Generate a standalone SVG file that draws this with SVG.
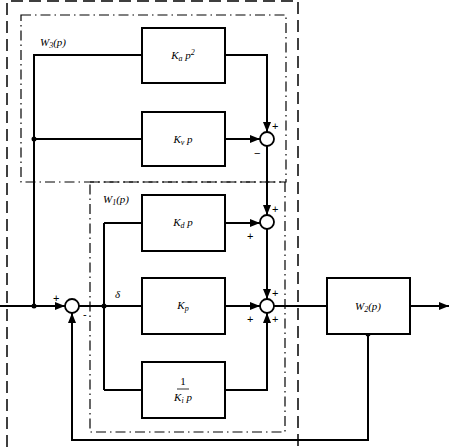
<svg xmlns="http://www.w3.org/2000/svg" width="452" height="447" viewBox="0 0 452 447">
<style>
.blk{fill:#fff;stroke:#000;stroke-width:2}
.ln{fill:none;stroke:#000;stroke-width:2}
.sum{fill:#fff;stroke:#000;stroke-width:1.8}
.dash{fill:none;stroke:#000;stroke-width:1.5;stroke-dasharray:12 6}
.dd{fill:none;stroke:#000;stroke-width:1.2;stroke-dasharray:10 4 1.5 4}
text{font-family:"Liberation Serif",serif;font-style:italic;font-size:11px;fill:#000}
.sg{font-style:normal;font-family:"Liberation Sans",sans-serif;font-size:11px}
</style>
<defs>
<marker id="ar" viewBox="0 0 10 8" refX="10" refY="4" markerWidth="10" markerHeight="8" markerUnits="userSpaceOnUse" orient="auto">
<path d="M0,0 L10,4 L0,8 Z" fill="#000"/>
</marker>
</defs>
<g id="frames">
<path class="dash" d="M7,447 V1 H298 V447"/>
<rect class="dd" x="21" y="15" width="265" height="167"/>
<rect class="dd" x="90" y="182" width="195" height="250"/>
</g>
<g id="connectors">
<path class="ln" d="M0,306 H65" marker-end="url(#ar)"/>
<path class="ln" d="M34,306 V55 H142"/>
<path class="ln" d="M34,139 H142"/>
<path class="ln" d="M225,139 H260" marker-end="url(#ar)"/>
<path class="ln" d="M225,55 H267 V132" marker-end="url(#ar)"/>
<path class="ln" d="M267,146 V215" marker-end="url(#ar)"/>
<path class="ln" d="M79,306 H142"/>
<path class="ln" d="M104,223 V390"/>
<path class="ln" d="M104,223 H142"/>
<path class="ln" d="M104,390 H142"/>
<path class="ln" d="M225,223 H260" marker-end="url(#ar)"/>
<path class="ln" d="M267,229 V299" marker-end="url(#ar)"/>
<path class="ln" d="M225,306 H260" marker-end="url(#ar)"/>
<path class="ln" d="M225,390 H267 V313" marker-end="url(#ar)"/>
<path class="ln" d="M274,306 H327"/>
<path class="ln" d="M410,306 H449" marker-end="url(#ar)"/>
<path class="ln" d="M368,334 V440 H72 V313" marker-end="url(#ar)"/>
<circle cx="34" cy="306" r="2.5"/>
<circle cx="34" cy="139" r="2.5"/>
<circle cx="104" cy="306" r="2.5"/>
<circle cx="368" cy="334" r="2.5"/>
</g>
<g id="sum0"><circle class="sum" cx="72" cy="306" r="7"/><text class="sg" x="53" y="302">+</text><text class="sg" x="83" y="318">-</text></g>
<g id="sum1"><circle class="sum" cx="267" cy="139" r="7"/><text class="sg" x="272" y="130">+</text><text class="sg" x="254" y="157">−</text></g>
<g id="sum2"><circle class="sum" cx="267" cy="222" r="7"/><text class="sg" x="272" y="213">+</text><text class="sg" x="247" y="240">+</text></g>
<g id="sum3"><circle class="sum" cx="267" cy="306" r="7"/><text class="sg" x="272" y="297">+</text><text class="sg" x="247" y="323">+</text><text class="sg" x="272" y="323">+</text></g>
<g id="b1"><rect class="blk" x="142" y="28" width="83" height="55"/><text x="183" y="59" text-anchor="middle">K<tspan font-size="8" dy="2">a</tspan><tspan dy="-2"> p</tspan><tspan font-size="8" dy="-4">2</tspan></text></g>
<g id="b2"><rect class="blk" x="142" y="112" width="83" height="54"/><text x="183" y="143" text-anchor="middle">K<tspan font-size="8" dy="2">v</tspan><tspan dy="-2"> p</tspan></text></g>
<g id="b3"><rect class="blk" x="142" y="195" width="83" height="56"/><text x="183" y="226" text-anchor="middle">K<tspan font-size="8" dy="2">d</tspan><tspan dy="-2"> p</tspan></text></g>
<g id="b4"><rect class="blk" x="142" y="278" width="83" height="56"/><text x="183" y="309" text-anchor="middle">K<tspan font-size="8" dy="2">p</tspan></text></g>
<g id="b5"><rect class="blk" x="142" y="362" width="83" height="56"/><text x="183" y="385" text-anchor="middle" style="font-style:normal">1</text><line x1="177" y1="389" x2="189" y2="389" stroke="#000" stroke-width="0.8"/><text x="183" y="401" text-anchor="middle">K<tspan font-size="8" dy="2">i</tspan><tspan dy="-2"> p</tspan></text></g>
<g id="b6"><rect class="blk" x="327" y="278" width="83" height="56"/><text x="368" y="310" text-anchor="middle">W<tspan font-size="8" dy="2">2</tspan><tspan dy="-2">(p)</tspan></text></g>
<g id="labels">
<text x="40" y="46">W<tspan font-size="8" dy="2">3</tspan><tspan dy="-2">(p)</tspan></text>
<text x="103" y="203">W<tspan font-size="8" dy="2">1</tspan><tspan dy="-2">(p)</tspan></text>
<text x="115" y="298">δ</text>
</g>
</svg>
